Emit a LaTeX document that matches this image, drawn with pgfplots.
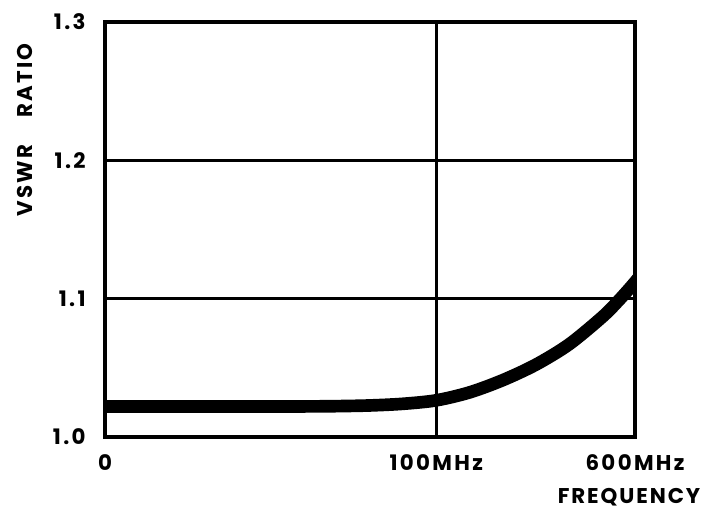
\documentclass[border=0pt]{standalone}
\usepackage{pgfplots}
\pgfplotsset{compat=1.18}
\usepackage{fontspec}
\setmainfont{Poppins}[UprightFont=* Bold, BoldFont=* Bold, LetterSpace=11]
\begin{document}
\begin{tikzpicture}
\begin{axis}[
  name=ax,
  scale only axis,
  width=397.5pt, height=311.25pt,
  xmin=0, xmax=1.6, ymin=1.0, ymax=1.3,
  axis line style={line width=3pt},
  xtick={0,1,1.6}, xticklabels={0,100MHz,600MHz},
  ytick={1.0,1.1,1.2,1.3}, yticklabels={1.0,1.1,1.2,1.3},
  major tick length=0pt,
  grid=major,
  major grid style={line width=2.25pt, black},
  ticklabel style={font=\fontsize{16}{18}\selectfont},
  xticklabel style={yshift=-10pt},
  yticklabel style={xshift=-11pt},
  clip=true,
]
\addplot[line width=9.5pt, black, smooth, line cap=butt] coordinates {
 (-0.05,1.022) (0.2,1.022) (0.4,1.022) (0.6,1.0221) (0.7,1.0223) (0.8,1.0228)
 (0.9,1.0240) (1.0,1.0265) (1.1,1.0322) (1.2,1.0410) (1.3,1.0522) (1.4,1.0668)
 (1.5,1.0865) (1.55,1.0985) (1.6,1.112) (1.65,1.127)
};
\end{axis}
\node[rotate=90, font=\fontsize{16}{18}\selectfont] at ([shift={(-60pt,-81pt)}]ax.north west) {VSWR\hspace{20pt}RATIO};
\node[anchor=east, font=\fontsize{16}{18}\selectfont\addfontfeature{LetterSpace=9}] at ([shift={(52.5pt,-45pt)}]ax.south east) {FREQUENCY};
\pgfresetboundingbox
\path[use as bounding box] ([shift={(-78.75pt,-58.5pt)}]ax.south west) rectangle ([shift={(52.5pt,16.5pt)}]ax.north east);
\end{tikzpicture}
\end{document}
